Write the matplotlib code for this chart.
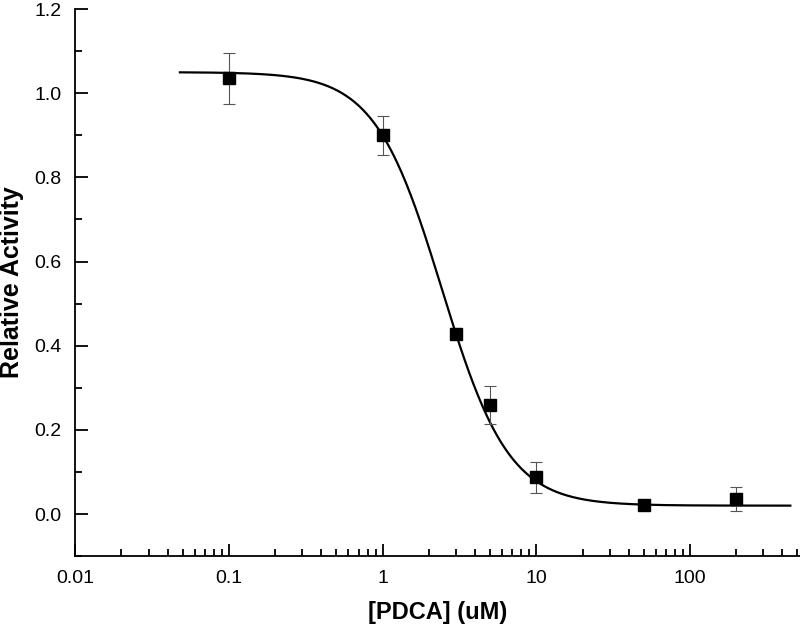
import numpy as np
import matplotlib
matplotlib.use("Agg")
from matplotlib import pyplot as plt
from matplotlib.ticker import LogLocator, FixedLocator, MultipleLocator, NullFormatter

# measured points
konc = [0.1, 1, 3, 5, 10, 50, 200]
aktivnost = [1.035, 0.900, 0.429, 0.260, 0.087, 0.021, 0.036]
greska = [0.060, 0.047, 0.013, 0.045, 0.036, 0.004, 0.029]

# dose-response fit
vrh, dno, ic50, hill = 1.05, 0.02, 2.43, 1.99
fit_od, fit_do = 0.048, 450

plt.rcParams['font.family'] = ['Liberation Sans', 'DejaVu Sans']

fig = plt.figure(figsize=(8.0, 6.27), dpi=100)
ax = fig.add_axes([0.094, 0.113, 0.906, 0.8726])

x = np.logspace(np.log10(fit_od), np.log10(fit_do), 400)
y = dno + (vrh - dno) / (1 + (x / ic50) ** hill)
ax.plot(x, y, color='black', lw=1.6, zorder=2)

ax.errorbar(konc, aktivnost, yerr=greska, fmt='none', ecolor='#555555',
            elinewidth=0.8, capsize=4, capthick=0.8, zorder=3)
ax.plot(konc, aktivnost, 's', color='black', ms=8, zorder=4)

ax.set_xscale('log')
ax.set_xlim(0.01, 520)
ax.set_ylim(-0.1, 1.2)

ax.xaxis.set_major_locator(FixedLocator([0.01, 0.1, 1, 10, 100]))
ax.set_xticklabels(['0.01', '0.1', '1', '10', '100'])
ax.xaxis.set_minor_locator(LogLocator(base=10, subs=np.arange(2, 10)))
ax.xaxis.set_minor_formatter(NullFormatter())
ax.set_yticks([0.0, 0.2, 0.4, 0.6, 0.8, 1.0, 1.2])
ax.set_yticklabels(['0.0', '0.2', '0.4', '0.6', '0.8', '1.0', '1.2'])
ax.yaxis.set_minor_locator(MultipleLocator(0.1))

ax.tick_params(which='major', direction='in', length=9, width=1.3, labelsize=14, pad=10)
ax.tick_params(which='minor', direction='in', length=5, width=1.3)

for s in ['top', 'right']:
    ax.spines[s].set_visible(False)
for s in ['left', 'bottom']:
    ax.spines[s].set_linewidth(1.3)

ax.set_xlabel('[PDCA] (uM)', fontsize=17, fontweight='bold', labelpad=10)
ax.set_ylabel('Relative Activity', fontsize=18, fontweight='bold', labelpad=7)

fig.savefig('out.png', dpi=100)
